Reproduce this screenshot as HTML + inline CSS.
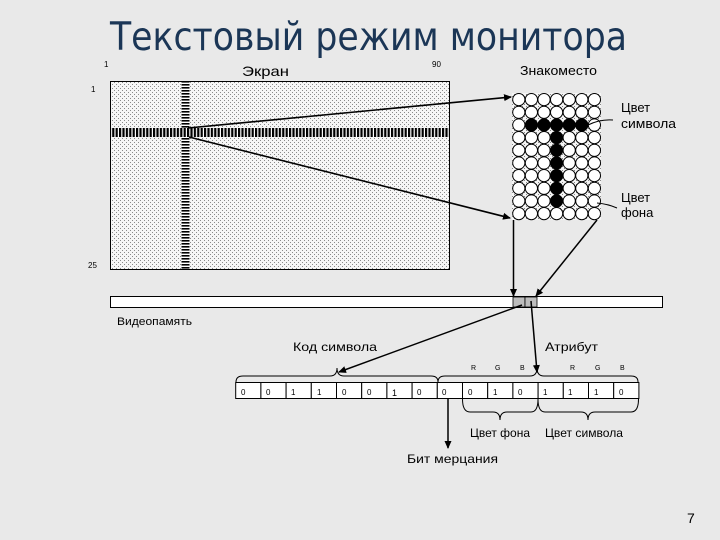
<!DOCTYPE html>
<html><head><meta charset="utf-8"><style>
html,body{margin:0;padding:0;background:#e9e9e9;}
svg{display:block;}
text{font-family:"Liberation Sans",Arial,sans-serif;fill:#000;}
</style></head><body>
<svg width="720" height="540" viewBox="0 0 720 540" xmlns="http://www.w3.org/2000/svg">
<defs>
<pattern id="dots" width="4" height="4" patternUnits="userSpaceOnUse">
<rect width="4" height="4" fill="#f6f6f6"/>
<rect x="0" y="0" width="1" height="1" fill="#8a8a8a"/>
<rect x="2" y="2" width="1" height="1" fill="#8a8a8a"/>
</pattern>
<pattern id="vbars" width="3.4" height="10" patternUnits="userSpaceOnUse">
<rect width="3.4" height="10" fill="#fff"/>
<rect x="0" y="0" width="2.2" height="10" fill="#000"/>
</pattern>
<pattern id="hbars" width="10" height="3" patternUnits="userSpaceOnUse">
<rect width="10" height="3" fill="#fff"/>
<rect x="0" y="0" width="10" height="1.6" fill="#000"/>
</pattern>
<marker id="ah" markerWidth="8" markerHeight="8" refX="7" refY="4" orient="auto" markerUnits="userSpaceOnUse">
<path d="M0,0.5 L8,4 L0,7.5 Z" fill="#000"/>
</marker>
</defs>

<!-- Title -->
<text x="110" y="50" textLength="517" lengthAdjust="spacingAndGlyphs" style="font-family:'DejaVu Sans','Liberation Sans',sans-serif;font-size:39px;fill:#1b3656;">Текстовый режим монитора</text>

<!-- Screen -->
<text x="104" y="67" font-size="8">1</text>
<text x="242" y="76" font-size="14" textLength="47" lengthAdjust="spacingAndGlyphs">Экран</text>
<text x="432" y="67" font-size="8">90</text>
<text x="91" y="92" font-size="8">1</text>
<text x="88" y="268" font-size="8">25</text>
<rect x="110.5" y="81.5" width="339" height="188" fill="url(#dots)" stroke="#000" stroke-width="1"/>
<rect x="181.5" y="82" width="8" height="187" fill="url(#hbars)"/>
<rect x="111" y="128" width="338" height="9" fill="url(#vbars)"/>

<!-- Arrows screen -> grid -->
<line x1="188" y1="128" x2="511" y2="97" stroke="#000" stroke-width="1.6" marker-end="url(#ah)"/>
<line x1="189" y1="137" x2="510" y2="218" stroke="#000" stroke-width="1.6" marker-end="url(#ah)"/>

<!-- Grid -->
<text x="520" y="75" font-size="13" textLength="77" lengthAdjust="spacingAndGlyphs">Знакоместо</text>
<rect x="512" y="93" width="89" height="127" fill="url(#dots)"/>
<g stroke="#000" stroke-width="1" fill="#fff">
<circle cx="518.8" cy="99.6" r="6.1"/><circle cx="531.4" cy="99.6" r="6.1"/><circle cx="544" cy="99.6" r="6.1"/><circle cx="556.6" cy="99.6" r="6.1"/><circle cx="569.2" cy="99.6" r="6.1"/><circle cx="581.8" cy="99.6" r="6.1"/><circle cx="594.4" cy="99.6" r="6.1"/>
<circle cx="518.8" cy="112.3" r="6.1"/><circle cx="531.4" cy="112.3" r="6.1"/><circle cx="544" cy="112.3" r="6.1"/><circle cx="556.6" cy="112.3" r="6.1"/><circle cx="569.2" cy="112.3" r="6.1"/><circle cx="581.8" cy="112.3" r="6.1"/><circle cx="594.4" cy="112.3" r="6.1"/>
<circle cx="518.8" cy="125" r="6.1"/><circle cx="531.4" cy="125" r="6.1" fill="#000"/><circle cx="544" cy="125" r="6.1" fill="#000"/><circle cx="556.6" cy="125" r="6.1" fill="#000"/><circle cx="569.2" cy="125" r="6.1" fill="#000"/><circle cx="581.8" cy="125" r="6.1" fill="#000"/><circle cx="594.4" cy="125" r="6.1"/>
<circle cx="518.8" cy="137.6" r="6.1"/><circle cx="531.4" cy="137.6" r="6.1"/><circle cx="544" cy="137.6" r="6.1"/><circle cx="556.6" cy="137.6" r="6.1" fill="#000"/><circle cx="569.2" cy="137.6" r="6.1"/><circle cx="581.8" cy="137.6" r="6.1"/><circle cx="594.4" cy="137.6" r="6.1"/>
<circle cx="518.8" cy="150.3" r="6.1"/><circle cx="531.4" cy="150.3" r="6.1"/><circle cx="544" cy="150.3" r="6.1"/><circle cx="556.6" cy="150.3" r="6.1" fill="#000"/><circle cx="569.2" cy="150.3" r="6.1"/><circle cx="581.8" cy="150.3" r="6.1"/><circle cx="594.4" cy="150.3" r="6.1"/>
<circle cx="518.8" cy="163" r="6.1"/><circle cx="531.4" cy="163" r="6.1"/><circle cx="544" cy="163" r="6.1"/><circle cx="556.6" cy="163" r="6.1" fill="#000"/><circle cx="569.2" cy="163" r="6.1"/><circle cx="581.8" cy="163" r="6.1"/><circle cx="594.4" cy="163" r="6.1"/>
<circle cx="518.8" cy="175.6" r="6.1"/><circle cx="531.4" cy="175.6" r="6.1"/><circle cx="544" cy="175.6" r="6.1"/><circle cx="556.6" cy="175.6" r="6.1" fill="#000"/><circle cx="569.2" cy="175.6" r="6.1"/><circle cx="581.8" cy="175.6" r="6.1"/><circle cx="594.4" cy="175.6" r="6.1"/>
<circle cx="518.8" cy="188.3" r="6.1"/><circle cx="531.4" cy="188.3" r="6.1"/><circle cx="544" cy="188.3" r="6.1"/><circle cx="556.6" cy="188.3" r="6.1" fill="#000"/><circle cx="569.2" cy="188.3" r="6.1"/><circle cx="581.8" cy="188.3" r="6.1"/><circle cx="594.4" cy="188.3" r="6.1"/>
<circle cx="518.8" cy="201" r="6.1"/><circle cx="531.4" cy="201" r="6.1"/><circle cx="544" cy="201" r="6.1"/><circle cx="556.6" cy="201" r="6.1" fill="#000"/><circle cx="569.2" cy="201" r="6.1"/><circle cx="581.8" cy="201" r="6.1"/><circle cx="594.4" cy="201" r="6.1"/>
<circle cx="518.8" cy="213.6" r="6.1"/><circle cx="531.4" cy="213.6" r="6.1"/><circle cx="544" cy="213.6" r="6.1"/><circle cx="556.6" cy="213.6" r="6.1"/><circle cx="569.2" cy="213.6" r="6.1"/><circle cx="581.8" cy="213.6" r="6.1"/><circle cx="594.4" cy="213.6" r="6.1"/>
</g>

<!-- Grid labels -->
<path d="M588,125 Q600,119 613,120" fill="none" stroke="#000" stroke-width="1"/>
<path d="M597,203 Q608,204 617,208" fill="none" stroke="#000" stroke-width="1"/>
<text x="621" y="112" font-size="13">Цвет</text>
<text x="621" y="128" font-size="13" textLength="55" lengthAdjust="spacingAndGlyphs">символа</text>
<text x="621" y="202" font-size="13">Цвет</text>
<text x="621" y="217" font-size="13">фона</text>

<!-- Grid -> memory arrows -->
<line x1="513.5" y1="220" x2="513.5" y2="296" stroke="#000" stroke-width="1.5" marker-end="url(#ah)"/>
<line x1="597" y1="220" x2="536" y2="296" stroke="#000" stroke-width="1.5" marker-end="url(#ah)"/>

<!-- Memory bar -->
<rect x="110.5" y="296.5" width="552" height="11" fill="#fff" stroke="#000" stroke-width="1"/>
<rect x="513" y="297" width="12" height="10" fill="#bdbdbd" stroke="#000" stroke-width="0.8"/>
<rect x="525" y="297" width="12" height="10" fill="#bdbdbd" stroke="#000" stroke-width="0.8"/>
<text x="117" y="325" font-size="11" textLength="75" lengthAdjust="spacingAndGlyphs">Видеопамять</text>

<!-- Memory -> bits arrows -->
<line x1="522" y1="305" x2="339" y2="372" stroke="#000" stroke-width="1.5" marker-end="url(#ah)"/>
<line x1="531" y1="301" x2="537" y2="372" stroke="#000" stroke-width="1.5" marker-end="url(#ah)"/>

<text x="293" y="351" font-size="12" textLength="84" lengthAdjust="spacingAndGlyphs">Код символа</text>
<text x="545" y="351" font-size="12" textLength="53" lengthAdjust="spacingAndGlyphs">Атрибут</text>

<!-- RGB labels -->
<g font-size="7">
<text x="471" y="370">R</text><text x="495" y="370">G</text><text x="520" y="370">B</text>
<text x="570" y="370">R</text><text x="595" y="370">G</text><text x="620" y="370">B</text>
</g>

<!-- Top braces -->
<path d="M236,382 Q236,376 243,376 L330,376 Q337,376 337,368 Q337,376 344,376 L431,376 Q438,376 438,382" fill="none" stroke="#000" stroke-width="1"/>
<path d="M438,382 Q438,376 445,376 L530,376 Q537,376 537,368 Q537,376 544,376 L631,376 Q638,376 638,382" fill="none" stroke="#000" stroke-width="1"/>

<!-- Bit cells -->
<g fill="#fff" stroke="#000" stroke-width="1">
<rect x="235.7" y="382.5" width="25.2" height="16"/><rect x="260.9" y="382.5" width="25.2" height="16"/><rect x="286.1" y="382.5" width="25.2" height="16"/><rect x="311.3" y="382.5" width="25.2" height="16"/>
<rect x="336.5" y="382.5" width="25.2" height="16"/><rect x="361.7" y="382.5" width="25.2" height="16"/><rect x="386.9" y="382.5" width="25.2" height="16"/><rect x="412.1" y="382.5" width="25.2" height="16"/>
<rect x="437.3" y="382.5" width="25.2" height="16"/><rect x="462.5" y="382.5" width="25.2" height="16"/><rect x="487.7" y="382.5" width="25.2" height="16"/><rect x="512.9" y="382.5" width="25.2" height="16"/>
<rect x="538.1" y="382.5" width="25.2" height="16"/><rect x="563.3" y="382.5" width="25.2" height="16"/><rect x="588.5" y="382.5" width="25.2" height="16"/><rect x="613.7" y="382.5" width="25.2" height="16"/>
</g>
<g font-size="8">
<text x="241" y="395">0</text><text x="266" y="395">0</text><text x="291" y="395">1</text><text x="317" y="395">1</text>
<text x="342" y="395">0</text><text x="367" y="395">0</text><text x="392" y="396" font-size="9">1</text><text x="417" y="395">0</text>
<text x="442" y="395">0</text><text x="468" y="395">0</text><text x="493" y="395">1</text><text x="518" y="395">0</text>
<text x="543" y="395">1</text><text x="568" y="395">1</text><text x="594" y="395">1</text><text x="619" y="395">0</text>
</g>

<!-- Bottom braces -->
<path d="M462.5,399 Q462.5,412 470,412 L493,412 Q500,412 500,420 Q500,412 507,412 L531,412 Q538,412 538,399" fill="none" stroke="#000" stroke-width="1"/>
<path d="M538,399 Q538,412 545,412 L581,412 Q588,412 588,420 Q588,412 595,412 L631,412 Q638.5,412 638.5,399" fill="none" stroke="#000" stroke-width="1"/>

<text x="470" y="437" font-size="12" textLength="60" lengthAdjust="spacingAndGlyphs">Цвет фона</text>
<text x="545" y="437" font-size="12" textLength="78" lengthAdjust="spacingAndGlyphs">Цвет символа</text>

<!-- Blink bit arrow -->
<line x1="448" y1="398" x2="448" y2="448" stroke="#000" stroke-width="1.5" marker-end="url(#ah)"/>
<text x="407" y="463" font-size="12" textLength="91" lengthAdjust="spacingAndGlyphs">Бит мерцания</text>

<!-- Page number -->
<text x="687" y="523" font-size="14">7</text>
</svg>
</body></html>
